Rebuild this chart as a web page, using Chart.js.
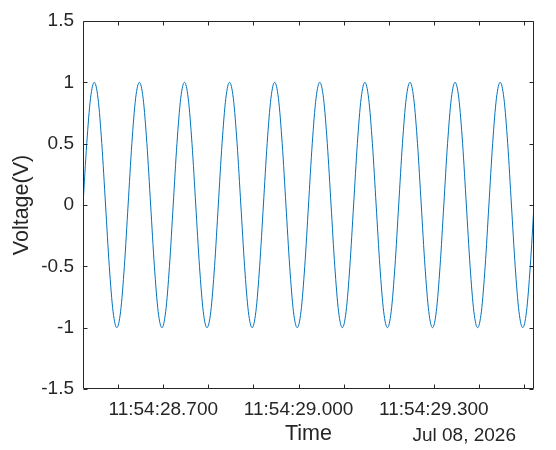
<!DOCTYPE html>
<html>
<head>
<meta charset="utf-8">
<script src="https://cdn.jsdelivr.net/npm/chart.js@4/dist/chart.umd.min.js"></script>
<style>
html,body{margin:0;padding:0;background:#fff;}
#wrap{width:556px;height:450px;position:relative;}
</style>
</head>
<body>
<div id="wrap"><canvas id="c" width="556" height="450"></canvas></div>
<script>
// Time in milliseconds after 11:54:28.000 (Jul 08, 2026)
const timeMs = [
  522, 530.3, 538.7, 547, 555.3, 563.7, 572, 580.3, 588.7, 597, 605.3, 613.7,
  622, 630.3, 638.7, 647, 655.3, 663.7, 672, 680.3, 688.7, 697, 705.3, 713.7,
  722, 730.3, 738.7, 747, 755.3, 763.7, 772, 780.3, 788.7, 797, 805.3, 813.7,
  822, 830.3, 838.7, 847, 855.3, 863.7, 872, 880.3, 888.7, 897, 905.3, 913.7,
  922, 930.3, 938.7, 947, 955.3, 963.7, 972, 980.3, 988.7, 997, 1005.3, 1013.7,
  1022, 1030.3, 1038.7, 1047, 1055.3, 1063.7, 1072, 1080.3, 1088.7, 1097, 1105.3, 1113.7,
  1122, 1130.3, 1138.7, 1147, 1155.3, 1163.7, 1172, 1180.3, 1188.7, 1197, 1205.3, 1213.7,
  1222, 1230.3, 1238.7, 1247, 1255.3, 1263.7, 1272, 1280.3, 1288.7, 1297, 1305.3, 1313.7,
  1322, 1330.3, 1338.7, 1347, 1355.3, 1363.7, 1372, 1380.3, 1388.7, 1397, 1405.3, 1413.7,
  1422, 1430.3, 1438.7, 1447, 1455.3, 1463.7, 1472, 1480.3, 1488.7, 1497, 1505.3, 1513.7,
  1522
];
const voltage = [
  0, 0.5, 0.87, 1, 0.87, 0.5, 0, -0.5, -0.87, -1, -0.87, -0.5,
  0, 0.5, 0.87, 1, 0.87, 0.5, 0, -0.5, -0.87, -1, -0.87, -0.5,
  0, 0.5, 0.87, 1, 0.87, 0.5, 0, -0.5, -0.87, -1, -0.87, -0.5,
  0, 0.5, 0.87, 1, 0.87, 0.5, 0, -0.5, -0.87, -1, -0.87, -0.5,
  0, 0.5, 0.87, 1, 0.87, 0.5, 0, -0.5, -0.87, -1, -0.87, -0.5,
  0, 0.5, 0.87, 1, 0.87, 0.5, 0, -0.5, -0.87, -1, -0.87, -0.5,
  0, 0.5, 0.87, 1, 0.87, 0.5, 0, -0.5, -0.87, -1, -0.87, -0.5,
  0, 0.5, 0.87, 1, 0.87, 0.5, 0, -0.5, -0.87, -1, -0.87, -0.5,
  0, 0.5, 0.87, 1, 0.87, 0.5, 0, -0.5, -0.87, -1, -0.87, -0.5,
  0, 0.5, 0.87, 1, 0.87, 0.5, 0, -0.5, -0.87, -1, -0.87, -0.5,
  0
];
const xTickValues = [600, 700, 800, 900, 1000, 1100, 1200, 1300, 1400, 1500];
const xTickLabels = ['', '11:54:28.700', '', '', '11:54:29.000', '', '', '11:54:29.300', '', ''];
const yTickValues = [-1.5, -1, -0.5, 0, 0.5, 1, 1.5];
const yTickLabels = ['-1.5', '-1', '-0.5', '0', '0.5', '1', '1.5'];
const xTitle = 'Time';
const yTitle = 'Voltage(V)';
const dateLabel = 'Jul 08, 2026';

const FONT = "'Liberation Sans', Arial, Helvetica, sans-serif";
const INK = '#262626';

const points = timeMs.map((t, i) => ({x: t, y: voltage[i]}));

const boxPlugin = {
  id: 'matlabBox',
  afterDraw(chart) {
    const {ctx, chartArea: a, scales} = chart;
    ctx.save();
    ctx.strokeStyle = INK;
    ctx.lineWidth = 1;
    ctx.beginPath();
    const L = a.left + 0.5, R = a.right - 0.5, T = a.top + 0.5, B = a.bottom - 0.5;
    ctx.rect(L, T, R - L, B - T);
    const tl = 4;
    scales.x.ticks.forEach(tk => {
      const px = Math.round(scales.x.getPixelForValue(tk.value)) + 0.5;
      ctx.moveTo(px, B); ctx.lineTo(px, B - tl);
      ctx.moveTo(px, T); ctx.lineTo(px, T + tl);
    });
    scales.y.ticks.forEach(tk => {
      const py = Math.round(scales.y.getPixelForValue(tk.value)) + 0.5;
      ctx.moveTo(L, py); ctx.lineTo(L + tl, py);
      ctx.moveTo(R, py); ctx.lineTo(R - tl, py);
    });
    ctx.stroke();
    // y-axis label
    ctx.fillStyle = INK;
    ctx.font = '21.5px ' + FONT;
    ctx.textAlign = 'center';
    ctx.textBaseline = 'middle';
    ctx.translate(22, (a.top + a.bottom) / 2);
    ctx.rotate(-Math.PI / 2);
    ctx.fillText(yTitle, 0, 0);
    ctx.restore();
    // date label
    ctx.save();
    ctx.fillStyle = INK;
    ctx.font = '19px ' + FONT;
    ctx.textAlign = 'right';
    ctx.textBaseline = 'alphabetic';
    ctx.fillText(dateLabel, 516, 441);
    ctx.restore();
  }
};

new Chart(document.getElementById('c'), {
  type: 'line',
  data: {
    datasets: [{
      data: points,
      borderColor: '#0072BD',
      borderWidth: 1,
      pointRadius: 0,
      fill: false,
      cubicInterpolationMode: 'monotone'
    }]
  },
  options: {
    responsive: false,
    animation: false,
    devicePixelRatio: 1,
    layout: {padding: {top: 21, right: 22, left: 0, bottom: 0}},
    plugins: {legend: {display: false}, tooltip: {enabled: false}},
    scales: {
      x: {
        type: 'linear',
        min: 522, max: 1522,
        afterFit(s) { s.height = 61; },
        afterBuildTicks(s) { s.ticks = xTickValues.map(v => ({value: v})); },
        grid: {display: false, drawTicks: false},
        border: {display: false},
        ticks: {
          autoSkip: false, maxRotation: 0, padding: 9.5,
          color: INK, font: {family: FONT, size: 19},
          callback: (v) => { const i = xTickValues.indexOf(v); return i >= 0 ? xTickLabels[i] : ''; }
        },
        title: {display: true, text: xTitle, color: INK, font: {family: FONT, size: 21.5}, padding: {top: 0, bottom: 3}}
      },
      y: {
        type: 'linear',
        min: -1.5, max: 1.5,
        afterFit(s) { s.width = 83; },
        afterBuildTicks(s) { s.ticks = yTickValues.map(v => ({value: v})); },
        grid: {display: false, drawTicks: false},
        border: {display: false},
        ticks: {
          padding: 9, color: INK, font: {family: FONT, size: 19},
          callback: (v) => { const i = yTickValues.indexOf(v); return i >= 0 ? yTickLabels[i] : ''; }
        }
      }
    }
  },
  plugins: [boxPlugin]
});
</script>
</body>
</html>
